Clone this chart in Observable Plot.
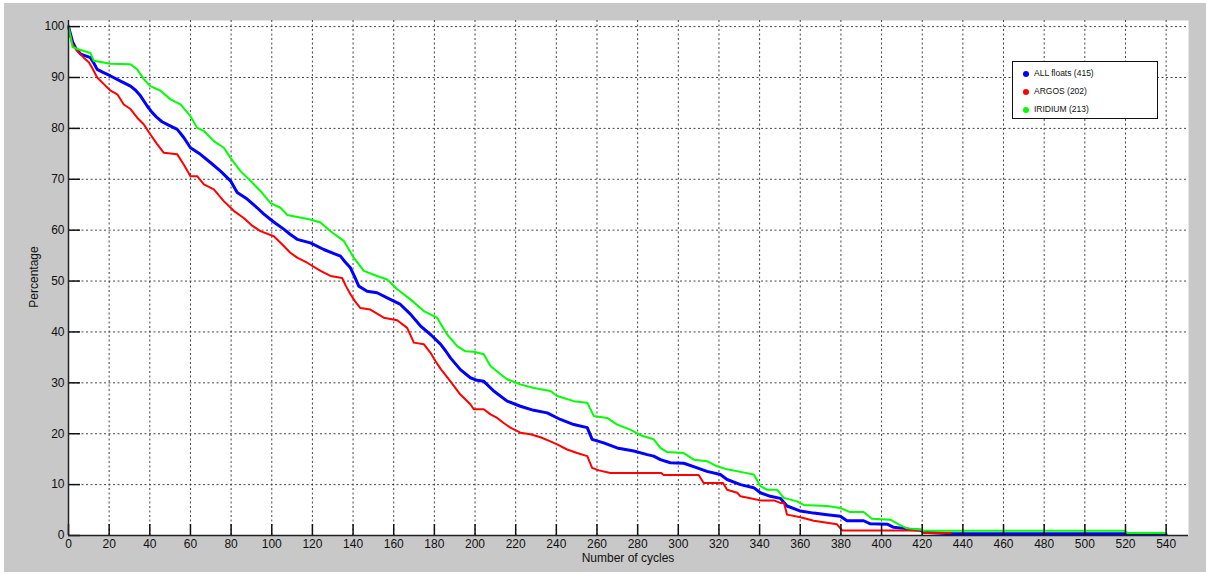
<!DOCTYPE html>
<html>
<head>
<meta charset="utf-8">
<script src="https://cdn.jsdelivr.net/npm/d3@7"></script>
<script src="https://cdn.jsdelivr.net/npm/@observablehq/plot@0.6"></script>
<style>
  html, body { margin: 0; padding: 0; background: #ffffff; width: 1206px; height: 577px; overflow: hidden; }
  #fig { position: absolute; left: 4px; top: 3px; width: 1202px; height: 569px; background: #c8c8c8; }
  #chart { position: absolute; left: 0; top: 0; }
  .axtitle { position: absolute; font-family: "Liberation Sans", Arial, sans-serif; font-size: 12px; color: #111; white-space: nowrap; }
  #legend { position: absolute; left: 1012px; top: 61px; width: 144px; height: 56px; background: #fff; border: 1.5px solid #111;
            font-family: "Liberation Sans", Arial, sans-serif; font-size: 8.5px; color: #111; }
  .item { position: absolute; left: 10px; height: 12px; line-height: 12px; white-space: nowrap; }
  .dot { display: inline-block; width: 6px; height: 6px; border-radius: 50%; margin-right: 5px; vertical-align: -0.5px; }
</style>
</head>
<body>
<div id="fig"></div>
<div id="chart"></div>
<div class="axtitle" style="left:0; width:1256px; top:551px; text-align:center;">Number of cycles</div>
<div class="axtitle" style="left:34px; top:277px; transform: translate(-50%,-50%) rotate(-90deg);">Percentage</div>
<div id="legend"></div>
<script>
// ---- Data ----
const xTicks = [0,20,40,60,80,100,120,140,160,180,200,220,240,260,280,300,320,340,360,380,400,420,440,460,480,500,520,540];
const yTicks = [0,10,20,30,40,50,60,70,80,90,100];

const seriesNames = ["ALL floats (415)", "ARGOS (202)", "IRIDIUM (213)"];
const seriesColors = ["#0000ff", "#ff0000", "#00ff00"];

const allCycles = [0,1,2,3.5,6,10.8,12.5,14.1,17,20.7,25.6,30.5,33,35.4,38.7,41,43.6,46,48.5,53.5,56.7,60,64.9,69.8,74.8,79.7,83,87.9,92.8,96,99.4,102,105.9,109,112.5,119,125.6,130,133.8,136,138.7,140.8,142.8,146.9,151.8,156.8,163.3,168.2,173.1,178.1,183,185.5,187.9,192.8,197.7,201,204.3,209.2,215.8,222.3,228.9,235.5,242,248.6,255.2,257.6,263.3,269.9,278.1,284.7,287.9,291.2,296.1,302.7,309.3,314.1,320.7,324,330.6,337.1,340.4,345.3,350.2,353.5,360.1,366.6,373.2,379.7,383,391.2,394.5,403,406,410.9,414.2,419.1,420.7,433.8,519.5,521,540];
const allPct    = [100,98.5,97,95.8,94.6,93.9,92.8,91.6,91,90.3,89.3,88.3,87.5,86.4,84.4,83.2,82.1,81.3,80.8,79.8,78.2,76.2,74.9,73.3,71.6,69.7,67.4,66.1,64.4,63.2,62.1,61.3,60.2,59.2,58.2,57.5,56.2,55.5,54.9,53.8,52.6,50.8,49,48,47.7,46.7,45.4,43.5,41.2,39.5,37.6,36.3,34.9,32.6,31,30.5,30.3,28.4,26.4,25.4,24.6,24.1,22.8,21.8,21.2,18.9,18.2,17.2,16.6,15.9,15.6,14.9,14.3,14.2,13.3,12.6,12,11,10,9.4,8.4,7.7,7.3,5.8,4.8,4.4,4.1,3.8,2.9,2.9,2.3,2.2,1.6,1.4,1.2,1.05,0.65,0.35,0.35,0.2,0.2];

const argosCycles = [0,1,2,4.3,7.5,10,11.6,14.1,17.4,20.7,24,27.2,30.5,33.8,37,40.3,43.6,46.9,53.5,56.7,60,63.3,66.6,71.5,76.4,81.3,86.2,90,94.4,101,105.9,109,112.5,117.4,124,128.9,134.6,136.5,138.7,141,143.6,148.5,155.1,161.7,166.6,169.9,174.8,178.1,180.5,183,187.9,192.8,197.7,199.4,204.3,207.6,210.9,214.1,217.4,222.3,227.2,232.2,237.1,240.4,245.3,250.2,255.2,257.6,260.9,266.6,291.5,292.8,310,312.5,322,324,329,330.6,335.4,340.4,347,350.2,352,353.5,360.1,366.6,373.2,378.1,380.6,420,420.5,434];
const argosPct    = [100,98,96.5,95.2,93.9,93,91.9,90,88.7,87.4,86.7,84.7,83.8,82.1,80.8,78.8,76.9,75.2,74.9,72.9,70.6,70.6,69,68,65.7,63.8,62.4,61,59.8,58.8,56.9,55.6,54.6,53.6,52,51,50.6,49,47.4,46,44.7,44.4,42.8,42.3,40.8,37.9,37.6,35.9,34.3,32.8,30.3,27.7,25.8,24.8,24.8,23.8,23.1,22.1,21.2,20.2,19.9,19.3,18.5,17.9,16.9,16.2,15.6,13.3,12.8,12.3,12.3,11.9,11.9,10.3,10.3,9,8.4,7.7,7.3,6.9,6.9,6.4,6.4,4.1,3.6,2.9,2.5,2.2,1,1,0.5,0.5];

const iridiumCycles = [0,1,2,5.1,10.8,12.4,20.7,30.5,33.8,37,40.3,45.3,50.2,55.1,60,63.3,66.6,71.5,76.4,79.7,84.6,89.5,94.4,99.4,104.3,107.6,119,124,128.9,135.4,140.3,145.3,151.8,156.8,161.7,168.2,174.8,181.3,186.3,191.2,195.3,199.4,204.3,207.6,212.5,215.8,222.3,228.9,237.1,240.4,248.6,255.2,258.4,265,269.9,276.4,281.4,287.9,291.2,294.5,302.7,307.6,314.1,319.1,324,330.6,337.1,340.4,343.6,348.6,351.9,358.4,361.7,373.2,379.7,384.6,391.2,395.2,404.3,408.4,412.5,419.1,420.7,519.5,521,540];
const iridiumPct    = [100,98,96,95.5,94.8,93.3,92.7,92.6,91.6,89.7,88.3,87.4,85.7,84.7,82.4,80.1,79.5,77.5,76.2,74.2,71.6,69.7,67.7,65.3,64.4,63,62.1,61.5,59.8,57.9,54.6,52,51,50.3,48.4,46.4,44.1,42.8,39.5,37.2,36.2,36.1,35.6,33.3,31.7,30.7,29.7,29,28.4,27.4,26.4,26.1,23.5,23.1,21.8,20.8,19.7,18.9,17.2,16.4,16.2,14.9,14.6,13.6,13,12.5,12,9.7,9,9,7.4,6.7,6,5.8,5.4,4.6,4.6,3.3,3.1,2.2,1.4,1.2,0.94,0.94,0.47,0.47];

// ---- Build tables ----
const toRows = (cs, ps) => cs.map((c, i) => ({cycle: c, pct: ps[i]}));
const allRows = toRows(allCycles, allPct);
const argosRows = toRows(argosCycles, argosPct);
const iridiumRows = toRows(iridiumCycles, iridiumPct);

const W = 1206, H = 577;
const mL = 68, mR = 18, mT = 20, mB = 42;
const plotW = W - mL - mR, plotH = H - mT - mB;

const gridStyle = {stroke: "#333", strokeOpacity: 0.9, strokeWidth: 1, strokeDasharray: "2,2.5"};

const chart = Plot.plot({
  width: W,
  height: H,
  marginLeft: mL, marginRight: mR, marginTop: mT, marginBottom: mB,
  style: {background: "transparent", fontFamily: "Liberation Sans, Arial, sans-serif", fontSize: "12px", color: "#111", overflow: "visible"},
  x: {domain: [0, 551], ticks: xTicks, tickSize: 0, tickPadding: 4, label: null},
  y: {domain: [0, 101.2], ticks: yTicks, tickSize: 0, tickPadding: 4, label: null},
  marks: [
    Plot.frame({fill: "white", stroke: null}),
    Plot.ruleX(xTicks.filter(d => d > 0), {x: d => d, ...gridStyle}),
    Plot.ruleY(yTicks.filter(d => d > 0), {y: d => d, ...gridStyle}),
    Plot.line(allRows, {x: "cycle", y: "pct", curve: "linear", stroke: seriesColors[0], strokeWidth: 3}),
    Plot.line(argosRows, {x: "cycle", y: "pct", curve: "linear", stroke: seriesColors[1], strokeWidth: 2}),
    Plot.line(iridiumRows, {x: "cycle", y: "pct", curve: "linear", stroke: seriesColors[2], strokeWidth: 2}),
    Plot.tickX(xTicks, {x: d => d, insetTop: plotH - 11, stroke: "#111", strokeWidth: 1.5}),
    Plot.tickY(yTicks, {y: d => d, insetRight: plotW - 12, stroke: "#111", strokeWidth: 1.5}),
    Plot.ruleX([0], {stroke: "#222", strokeWidth: 1.5}),
    Plot.ruleY([0], {stroke: "#222", strokeWidth: 1.5})
  ]
});
document.getElementById("chart").appendChild(chart);

// ---- Legend ----
const legend = document.getElementById("legend");
seriesNames.forEach((name, i) => {
  const it = document.createElement("div");
  it.className = "item";
  it.style.top = (5 + i * 18) + "px";
  const dot = document.createElement("span");
  dot.className = "dot";
  dot.style.background = seriesColors[i];
  it.appendChild(dot);
  it.appendChild(document.createTextNode(name));
  legend.appendChild(it);
});
</script>
</body>
</html>
